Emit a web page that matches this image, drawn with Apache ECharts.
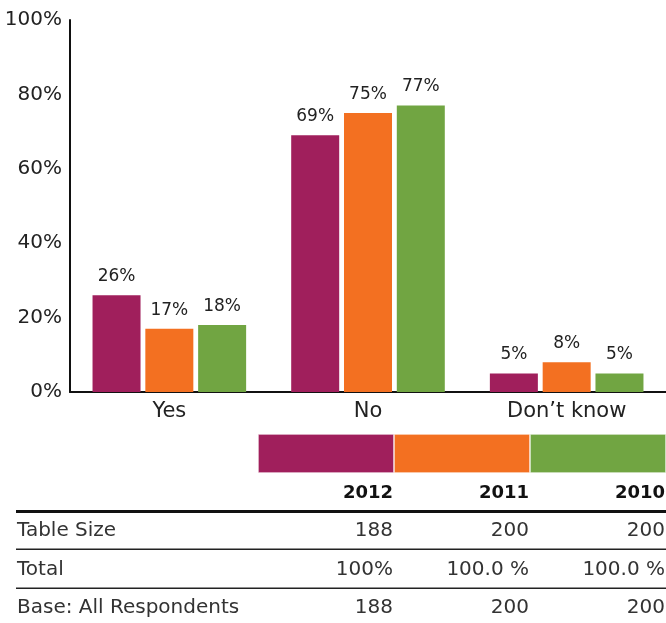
<!DOCTYPE html>
<html><head><meta charset="utf-8">
<script src="https://cdn.jsdelivr.net/npm/echarts@6/dist/echarts.min.js"></script>
<style>html,body{margin:0;padding:0;background:#fff}#c{width:666px;height:623px}</style>
</head><body><div id="c"></div>
<script>
var categories = ['Yes', 'No', 'Don\u2019t know'];
var years = ['2012', '2011', '2010'];
var values2012 = [26, 69, 5];
var values2011 = [17, 75, 8];
var values2010 = [18, 77, 5];
var colors = ['#A01F5C', '#F37021', '#71A542'];
var yTicks = [0, 20, 40, 60, 80, 100];
var rowLabels = ['Table Size', 'Total', 'Base: All Respondents'];
var rowTableSize = ['188', '200', '200'];
var rowTotal = ['100%', '100.0 %', '100.0 %'];
var rowBase = ['188', '200', '200'];

var FONT = 'DejaVu Sans';
var chart = echarts.init(document.getElementById('c'));
var seriesVals = [values2012, values2011, values2010];

var series = years.map(function (y, i) {
  return {
    name: y, type: 'bar', xAxisIndex: 0, yAxisIndex: 0,
    data: seriesVals[i], barWidth: 48, barGap: '10%',
    itemStyle: { color: colors[i] },
    label: { show: true, position: 'top', distance: 10, formatter: '{c}%',
      fontFamily: FONT, fontSize: 17, color: '#222' }
  };
});
// legend colour strip
years.forEach(function (y, i) {
  series.push({
    type: 'bar', xAxisIndex: 1, yAxisIndex: 1, stack: 'strip',
    data: [1], barWidth: '100%',
    itemStyle: { color: colors[i], borderColor: '#fff', borderWidth: 0.6 },
    silent: true
  });
});

// table graphics
var colRight = [393, 529, 665];
var rowY = [531, 570, 608];
var rows = [rowTableSize, rowTotal, rowBase];
var graphic = [];
years.forEach(function (y, i) {
  graphic.push({ type: 'text', x: colRight[i], y: 493, style: { text: y, align: 'right', verticalAlign: 'middle',
    font: 'bold 18px "' + FONT + '"', fill: '#111' } });
});
graphic.push({ type: 'rect', shape: { x: 16, y: 510, width: 650, height: 3 }, style: { fill: '#111' } });
graphic.push({ type: 'rect', shape: { x: 16, y: 548.5, width: 650, height: 1.5 }, style: { fill: '#222' } });
graphic.push({ type: 'rect', shape: { x: 16, y: 587.5, width: 650, height: 1.5 }, style: { fill: '#222' } });
rowLabels.forEach(function (lab, r) {
  graphic.push({ type: 'text', x: 17, y: rowY[r], style: { text: lab, align: 'left', verticalAlign: 'middle',
    font: '20px "' + FONT + '"', fill: '#333' } });
  rows[r].forEach(function (v, i) {
    graphic.push({ type: 'text', x: colRight[i], y: rowY[r], style: { text: v, align: 'right', verticalAlign: 'middle',
      font: '20px "' + FONT + '"', fill: '#333' } });
  });
});

chart.setOption({
  animation: false,
  grid: [
    { left: 70, right: 0, top: 20, bottom: 231 },
    { left: 258, right: 0, top: 434, height: 39 }
  ],
  xAxis: [
    { type: 'category', data: categories, gridIndex: 0,
      axisLine: { lineStyle: { color: '#111', width: 2 } }, axisTick: { show: false },
      axisLabel: { fontFamily: FONT, fontSize: 21, color: '#222', margin: 9 } },
    { type: 'value', gridIndex: 1, min: 0, max: 3, show: false }
  ],
  yAxis: [
    { type: 'value', gridIndex: 0, min: 0, max: 100, interval: 20,
      axisLine: { show: true, lineStyle: { color: '#111', width: 2 } }, axisTick: { show: false },
      splitLine: { show: false },
      axisLabel: { formatter: '{value}%', fontFamily: FONT, fontSize: 20, color: '#222', margin: 8 } },
    { type: 'category', gridIndex: 1, data: ['s'], show: false }
  ],
  series: series,
  graphic: graphic
});
</script></body></html>
